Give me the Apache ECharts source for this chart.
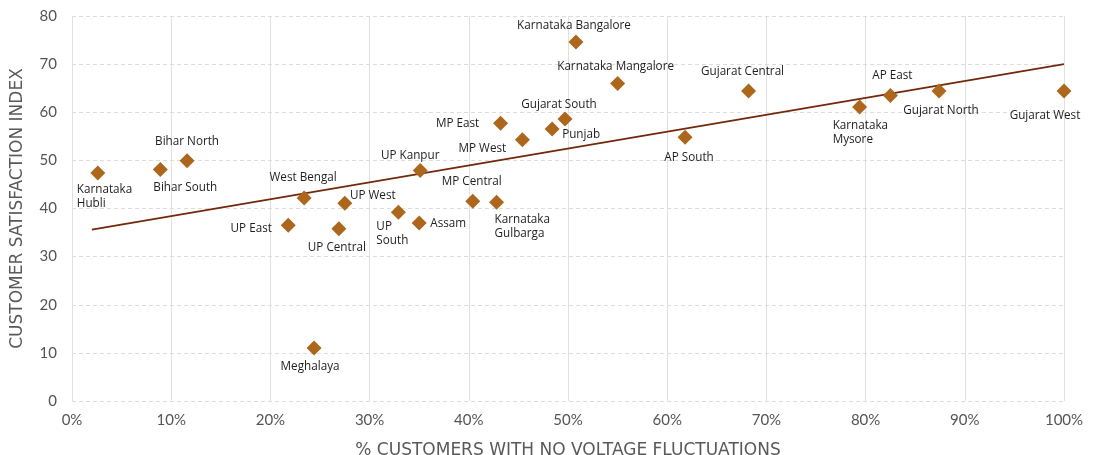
<!DOCTYPE html>
<html>
<head>
<meta charset="utf-8">
<style>
  html, body { margin: 0; padding: 0; background: #ffffff; overflow: hidden; }
  #chart { width: 1098px; height: 455px; }
</style>
<script src="https://cdn.jsdelivr.net/npm/echarts@6/dist/echarts.min.js"></script>
</head>
<body>
<div id="chart"></div>
<script>
// Distribution zones / states
const zones = [
  'Karnataka\nHubli', 'Bihar South', 'Bihar North', 'West Bengal', 'UP West',
  'UP East', 'UP Central', 'UP\nSouth', 'Assam', 'Meghalaya',
  'UP Kanpur', 'MP Central', 'Karnataka\nGulbarga', 'MP East', 'MP West',
  'Punjab', 'Gujarat South', 'Karnataka Bangalore', 'Karnataka Mangalore', 'Gujarat Central',
  'AP South', 'Karnataka\nMysore', 'AP East', 'Gujarat North', 'Gujarat West'
];
// % customers with no voltage fluctuations
const noFluctuationPct = [
  2.6, 8.9, 11.6, 23.4, 27.5,
  21.8, 26.9, 32.9, 35.0, 24.4,
  35.1, 40.4, 42.8, 43.2, 45.4,
  48.4, 49.7, 50.8, 55.0, 68.2,
  61.8, 79.4, 82.5, 87.4, 100.0
];
// Customer satisfaction index
const satisfaction = [
  47.4, 48.1, 49.9, 42.2, 41.1,
  36.5, 35.8, 39.2, 37.0, 11.0,
  47.9, 41.5, 41.3, 57.7, 54.3,
  56.5, 58.6, 74.6, 66.0, 64.4,
  54.8, 61.1, 63.5, 64.4, 64.4
];
// Linear trend endpoints
const trendX = [2, 100];
const trendY = [35.6, 70];

const xTicks = [0, 10, 20, 30, 40, 50, 60, 70, 80, 90, 100];
const yTicks = [0, 10, 20, 30, 40, 50, 60, 70, 80];

// Label placement around each marker: [dx, dy, align]
const labelPlacement = {
  'Karnataka\nHubli': [-21, 24, 'left'],
  'Bihar South': [25, 18, 'center'],
  'Bihar North': [0, -19, 'center'],
  'West Bengal': [-1, -20, 'center'],
  'UP West': [28, -8, 'center'],
  'UP East': [-37, 3, 'center'],
  'UP Central': [-2, 19, 'center'],
  'UP\nSouth': [-22, 21, 'left'],
  'Assam': [29, 1, 'center'],
  'Meghalaya': [-4, 19, 'center'],
  'UP Kanpur': [-10, -15, 'center'],
  'MP Central': [-1, -20, 'center'],
  'Karnataka\nGulbarga': [-2, 24, 'left'],
  'MP East': [-43, 0, 'center'],
  'MP West': [-40, 9, 'center'],
  'Punjab': [29, 6, 'center'],
  'Gujarat South': [-6, -14, 'center'],
  'Karnataka Bangalore': [-2, -16, 'center'],
  'Karnataka Mangalore': [-2, -17, 'center'],
  'Gujarat Central': [-6, -19, 'center'],
  'AP South': [4, 20, 'center'],
  'Karnataka\nMysore': [-27, 26, 'left'],
  'AP East': [2, -20, 'center'],
  'Gujarat North': [2, 20, 'center'],
  'Gujarat West': [-19, 25, 'center']
};

const points = zones.map((name, i) => {
  const p = labelPlacement[name];
  return {
    name: name,
    value: [noFluctuationPct[i], satisfaction[i]],
    label: { offset: [p[0], p[1]], align: p[2] }
  };
});

const chart = echarts.init(document.getElementById('chart'), null, { renderer: 'canvas' });

const axisFont = 'Lato, "DejaVu Sans", sans-serif';
const nameFont = '"DejaVu Sans", sans-serif';

chart.setOption({
  backgroundColor: '#ffffff',
  animation: false,
  grid: { left: 72, right: 34, top: 16, bottom: 54, containLabel: false, outerBoundsMode: 'none' },
  xAxis: {
    type: 'value',
    min: 0,
    max: 100,
    interval: 10,
    name: '% CUSTOMERS WITH NO VOLTAGE FLUCTUATIONS',
    nameLocation: 'middle',
    nameGap: 41,
    nameTextStyle: { fontFamily: nameFont, fontSize: 17, color: '#595959' },
    axisLine: { show: false },
    axisTick: { show: false },
    axisLabel: {
      fontFamily: axisFont, fontSize: 15, color: '#555555', margin: 12,
      formatter: v => xTicks.includes(v) ? v + '%' : ''
    },
    splitLine: { show: true, lineStyle: { color: '#e0e0e0', width: 1, type: 'solid' } }
  },
  yAxis: {
    type: 'value',
    min: 0,
    max: 80,
    interval: 10,
    name: 'CUSTOMER SATISFACTION INDEX',
    nameLocation: 'middle',
    nameGap: 46,
    nameRotate: 90,
    nameTextStyle: { fontFamily: nameFont, fontSize: 17, color: '#595959' },
    axisLine: { show: false },
    axisTick: { show: false },
    axisLabel: {
      fontFamily: axisFont, fontSize: 15, color: '#555555', margin: 15,
      formatter: v => yTicks.includes(v) ? String(v) : ''
    },
    splitLine: { show: true, lineStyle: { color: '#dddddd', width: 1, type: [4, 3] } }
  },
  series: [
    {
      type: 'line',
      data: trendX.map((x, i) => [x, trendY[i]]),
      symbol: 'none',
      lineStyle: { color: '#72290b', width: 1.8 },
      silent: true,
      z: 2
    },
    {
      type: 'scatter',
      data: points,
      symbol: 'diamond',
      symbolSize: 15,
      itemStyle: { color: '#ac671c', opacity: 1 },
      label: {
        show: true,
        position: 'inside',
        verticalAlign: 'middle',
        formatter: p => p.name,
        fontFamily: '"Open Sans", "Noto Sans", sans-serif',
        fontSize: 11.7,
        lineHeight: 14,
        color: '#1e1e1e'
      },
      z: 3
    }
  ]
});
</script>
</body>
</html>
